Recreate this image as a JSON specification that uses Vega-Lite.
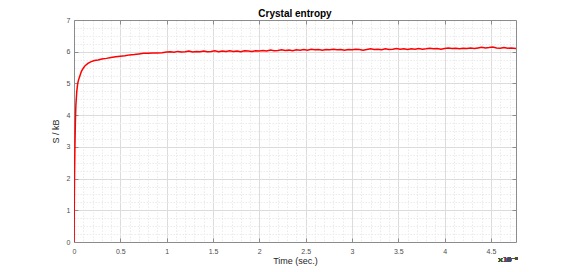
{
  "$schema": "https://vega.github.io/schema/vega-lite/v6.json",
  "width": 442,
  "height": 222,
  "autosize": "none",
  "padding": {"left": 74, "top": 20, "right": 54, "bottom": 30},
  "background": "white",
  "config": {
    "view": {"stroke": null},
    "font": "Liberation Sans",
    "axis": {"labelFont": "Liberation Sans", "titleFont": "Liberation Sans", "labelColor": "#4d4d4d", "titleColor": "#262626", "titleFontWeight": "normal", "domainColor": "#8c8c8c", "tickColor": "#8c8c8c"}
  },
  "title": {"text": "Crystal entropy", "fontSize": 10, "fontWeight": "bold", "color": "#000000", "offset": -3, "font": "Liberation Sans"},
  "data": {"values": [
    {"t": 0, "s": 0}, {"t": 0.003, "s": 1.2}, {"t": 0.006, "s": 2.2}, {"t": 0.01, "s": 3.0}, {"t": 0.015, "s": 3.8}, {"t": 0.02, "s": 4.3}, {"t": 0.03, "s": 4.75}, {"t": 0.04, "s": 5.0}, {"t": 0.05, "s": 5.12}, {"t": 0.065, "s": 5.25}, {"t": 0.08, "s": 5.38}, {"t": 0.1, "s": 5.48}, {"t": 0.12, "s": 5.56}, {"t": 0.15, "s": 5.63}, {"t": 0.18, "s": 5.68}, {"t": 0.22, "s": 5.72}, {"t": 0.26, "s": 5.74}, {"t": 0.3, "s": 5.77}, {"t": 0.35, "s": 5.79}, {"t": 0.4, "s": 5.82}, {"t": 0.45, "s": 5.84}, {"t": 0.5, "s": 5.86}, {"t": 0.55, "s": 5.87}, {"t": 0.6, "s": 5.9}, {"t": 0.65, "s": 5.91}, {"t": 0.7, "s": 5.93}, {"t": 0.75, "s": 5.95}, {"t": 0.8, "s": 5.95}, {"t": 0.85, "s": 5.96}, {"t": 0.9, "s": 5.96}, {"t": 0.95, "s": 5.97}, {"t": 1.0, "s": 5.99},
    {"t": 1.04, "s": 6.0}, {"t": 1.08, "s": 5.98}, {"t": 1.12, "s": 6.01}, {"t": 1.16, "s": 5.99}, {"t": 1.2, "s": 6.0}, {"t": 1.24, "s": 6.02}, {"t": 1.28, "s": 5.99}, {"t": 1.32, "s": 6.01}, {"t": 1.36, "s": 6.0}, {"t": 1.4, "s": 6.02}, {"t": 1.44, "s": 6.0}, {"t": 1.48, "s": 6.01}, {"t": 1.52, "s": 6.03}, {"t": 1.56, "s": 6.0}, {"t": 1.6, "s": 6.02}, {"t": 1.64, "s": 6.01}, {"t": 1.68, "s": 6.03}, {"t": 1.72, "s": 6.01}, {"t": 1.76, "s": 6.02}, {"t": 1.8, "s": 6.0}, {"t": 1.84, "s": 6.03}, {"t": 1.88, "s": 6.02}, {"t": 1.92, "s": 6.01}, {"t": 1.96, "s": 6.03}, {"t": 2.0, "s": 6.02}, {"t": 2.04, "s": 6.04}, {"t": 2.08, "s": 6.02}, {"t": 2.12, "s": 6.05}, {"t": 2.16, "s": 6.03}, {"t": 2.2, "s": 6.04}, {"t": 2.24, "s": 6.06}, {"t": 2.28, "s": 6.04}, {"t": 2.32, "s": 6.05}, {"t": 2.36, "s": 6.03}, {"t": 2.4, "s": 6.06}, {"t": 2.44, "s": 6.05}, {"t": 2.48, "s": 6.07}, {"t": 2.52, "s": 6.05}, {"t": 2.56, "s": 6.08}, {"t": 2.6, "s": 6.06}, {"t": 2.64, "s": 6.07}, {"t": 2.68, "s": 6.05}, {"t": 2.72, "s": 6.07}, {"t": 2.76, "s": 6.06}, {"t": 2.8, "s": 6.08}, {"t": 2.84, "s": 6.06}, {"t": 2.88, "s": 6.07}, {"t": 2.92, "s": 6.05}, {"t": 2.96, "s": 6.07}, {"t": 3.0, "s": 6.06}, {"t": 3.04, "s": 6.08}, {"t": 3.08, "s": 6.07}, {"t": 3.12, "s": 6.05}, {"t": 3.16, "s": 6.07}, {"t": 3.2, "s": 6.09}, {"t": 3.24, "s": 6.07}, {"t": 3.28, "s": 6.08}, {"t": 3.32, "s": 6.06}, {"t": 3.36, "s": 6.09}, {"t": 3.4, "s": 6.07}, {"t": 3.44, "s": 6.08}, {"t": 3.48, "s": 6.1}, {"t": 3.52, "s": 6.08}, {"t": 3.56, "s": 6.09}, {"t": 3.6, "s": 6.07}, {"t": 3.64, "s": 6.09}, {"t": 3.68, "s": 6.08}, {"t": 3.72, "s": 6.1}, {"t": 3.76, "s": 6.08}, {"t": 3.8, "s": 6.09}, {"t": 3.84, "s": 6.11}, {"t": 3.88, "s": 6.09}, {"t": 3.92, "s": 6.1}, {"t": 3.96, "s": 6.08}, {"t": 4.0, "s": 6.1}, {"t": 4.04, "s": 6.12}, {"t": 4.08, "s": 6.1}, {"t": 4.12, "s": 6.11}, {"t": 4.16, "s": 6.09}, {"t": 4.2, "s": 6.11}, {"t": 4.24, "s": 6.1}, {"t": 4.28, "s": 6.12}, {"t": 4.32, "s": 6.1}, {"t": 4.36, "s": 6.12}, {"t": 4.4, "s": 6.14}, {"t": 4.44, "s": 6.12}, {"t": 4.48, "s": 6.13}, {"t": 4.52, "s": 6.15}, {"t": 4.56, "s": 6.12}, {"t": 4.6, "s": 6.11}, {"t": 4.64, "s": 6.13}, {"t": 4.68, "s": 6.11}, {"t": 4.72, "s": 6.12}, {"t": 4.77, "s": 6.1}
  ]},
  "layer": [
    {
      "mark": {"type": "line", "color": "#ff0000", "strokeWidth": 1.5, "clip": true},
      "encoding": {
        "x": {"field": "t", "type": "quantitative", "scale": {"domain": [0, 4.77], "nice": false, "zero": false},
          "axis": {
            "orient": "bottom",
            "title": "Time (sec.)", "titleFontSize": 9, "titlePadding": 2,
            "values": [0,0.1,0.2,0.3,0.4,0.5,0.6,0.7,0.8,0.9,1,1.1,1.2,1.3,1.4,1.5,1.6,1.7,1.8,1.9,2,2.1,2.2,2.3,2.4,2.5,2.6,2.7,2.8,2.9,3,3.1,3.2,3.3,3.4,3.5,3.6,3.7,3.8,3.9,4,4.1,4.2,4.3,4.4,4.5,4.6,4.7],
            "labelExpr": "abs(datum.value*2-round(datum.value*2))<0.001 ? format(datum.value,'~g') : ''",
            "labelFontSize": 7, "labelPadding": 9, "labelFlush": false, "labelOverlap": false,
            "tickSize": -4,
            "tickOpacity": {"condition": {"test": "abs(datum.value*2-round(datum.value*2))<0.001", "value": 1}, "value": 0},
            "grid": true,
            "gridColor": {"condition": {"test": "abs(datum.value*2-round(datum.value*2))<0.001", "value": "#dcdcdc"}, "value": "#ebebeb"},
            "gridDash": {"condition": {"test": "abs(datum.value*2-round(datum.value*2))<0.001", "value": []}, "value": [1.5, 1.5]},
            "domainWidth": 1
          }},
        "y": {"field": "s", "type": "quantitative", "scale": {"domain": [0, 7], "nice": false},
          "axis": {
            "orient": "left",
            "title": "S / kB", "titleFontSize": 9, "titlePadding": 6,
            "values": [0,0.25,0.5,0.75,1,1.25,1.5,1.75,2,2.25,2.5,2.75,3,3.25,3.5,3.75,4,4.25,4.5,4.75,5,5.25,5.5,5.75,6,6.25,6.5,6.75,7],
            "labelExpr": "abs(datum.value-round(datum.value))<0.001 ? format(datum.value,'~g') : ''",
            "labelFontSize": 7, "labelPadding": 8, "labelOverlap": false, "labelFlush": false,
            "tickSize": -4,
            "tickOpacity": {"condition": {"test": "abs(datum.value-round(datum.value))<0.001", "value": 1}, "value": 0},
            "grid": true,
            "gridColor": {"condition": {"test": "abs(datum.value-round(datum.value))<0.001", "value": "#dcdcdc"}, "value": "#ebebeb"},
            "gridDash": {"condition": {"test": "abs(datum.value-round(datum.value))<0.001", "value": []}, "value": [1.5, 1.5]}
          }}
      }
    },
    {
      "mark": {"type": "line", "opacity": 0},
      "encoding": {
        "x": {"field": "t", "type": "quantitative", "axis": {"orient": "top", "title": null, "values": [0.5,1,1.5,2,2.5,3,3.5,4,4.5], "labels": false, "grid": false, "tickSize": -4}},
        "y": {"field": "s", "type": "quantitative", "axis": {"orient": "right", "title": null, "values": [1,2,3,4,5,6], "labels": false, "grid": false, "tickSize": -4}}
      }
    },
    {
      "mark": {"type": "text", "text": "×10⁻⁸", "fontSize": 6.5, "font": "DejaVu Sans", "fill": "#4d4d4d", "opacity": 1, "align": "center", "baseline": "middle"},
      "encoding": {
        "x": {"datum": 4.68, "type": "quantitative", "axis": null},
        "y": {"datum": -0.56, "type": "quantitative", "axis": null}
      }
    }
  ],
  "resolve": {"axis": {"x": "independent", "y": "independent"}}
}
